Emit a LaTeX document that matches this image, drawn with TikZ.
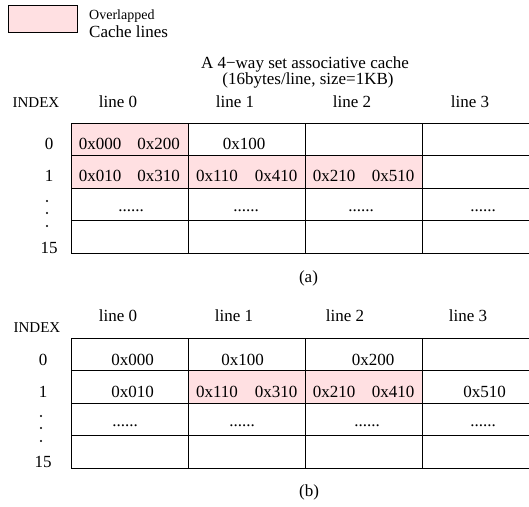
\documentclass[tikz,border=0pt]{standalone}
\usepackage{fontspec}
\setmainfont{Liberation Serif}
\definecolor{ovl}{RGB}{255,224,226}
\begin{document}
\begin{tikzpicture}[x=1pt,y=-1pt,
  txt/.style={inner sep=0pt,anchor=base,font=\fontsize{17}{20}\selectfont},
  idx/.style={inner sep=0pt,anchor=base,font=\fontsize{15}{18}\selectfont},
  grid/.style={line width=0.8pt,black},
  ovlfill/.style={fill=ovl}]
\useasboundingbox (0,0) rectangle (529,506);
% legend
\draw[fill=ovl,line width=0.8pt] (8,5) rectangle (77,32);
\node[idx,anchor=base west,font=\fontsize{14}{16}\selectfont] (lg1) at (89,19) {Overlapped};
\node[txt,anchor=base west] (lg2) at (89,37) {Cache lines};
% title
\node[txt] (t1) at (305,68) {A 4−way set associative cache};
\node[txt] (t2) at (308,84) {(16bytes/line, size=1KB)};
% ---------- table (a) ----------
\fill[ovl] (71,123) rectangle (188,188);
\fill[ovl] (188,155.5) rectangle (422,188);
\foreach \y in {123,155.5,188,220.5,253} \draw[grid] (71,\y) -- (529,\y);
\foreach \x in {71,188,305,422} \draw[grid] (\x,123) -- (\x,253);
\node[idx] (ai) at (36,107) {INDEX};
\node[txt] (al0) at (118,107) {line 0};
\node[txt] (al1) at (235,107) {line 1};
\node[txt] (al2) at (352,107) {line 2};
\node[txt] (al3) at (470,107) {line 3};
\node[txt] (ar0) at (49,149) {0};
\node[txt] (ar1) at (49,181.5) {1};
\node[txt] (ar15) at (49,253) {15};
\foreach \d in {201,213,226} \fill (47,\d) circle (1.1pt);
\node[txt] (a00a) at (100,149) {0x000};
\node[txt] (a00b) at (158.5,149) {0x200};
\node[txt] (a01) at (244,149) {0x100};
\node[txt] (a10a) at (100,181.5) {0x010};
\node[txt] (a10b) at (158.5,181.5) {0x310};
\node[txt] (a11a) at (217,181.5) {0x110};
\node[txt] (a11b) at (276,181.5) {0x410};
\node[txt] (a12a) at (334,181.5) {0x210};
\node[txt] (a12b) at (393,181.5) {0x510};
\node[txt] (a20) at (131,211) {......};
\node[txt] (a21) at (246,211) {......};
\node[txt] (a22) at (361,211) {......};
\node[txt] (a23) at (483,211) {......};
\node[txt] (acap) at (308.5,282) {(a)};
% ---------- table (b) ----------
\fill[ovl] (188,370.5) rectangle (422,403);
\foreach \y in {338,370.5,403,435.5,468} \draw[grid] (71,\y) -- (529,\y);
\foreach \x in {71,188,305,422} \draw[grid] (\x,338) -- (\x,468);
\node[idx] (bi) at (37,332) {INDEX};
\node[txt] (bl0) at (118,321) {line 0};
\node[txt] (bl1) at (234,321) {line 1};
\node[txt] (bl2) at (345,321) {line 2};
\node[txt] (bl3) at (468,321) {line 3};
\node[txt] (br0) at (43,365) {0};
\node[txt] (br1) at (43,397) {1};
\node[txt] (br15) at (43,467) {15};
\foreach \d in {416,428,441} \fill (41,\d) circle (1.1pt);
\node[txt] (b00) at (132.5,365) {0x000};
\node[txt] (b01) at (242.5,365) {0x100};
\node[txt] (b02) at (373,365) {0x200};
\node[txt] (b10) at (132.5,397) {0x010};
\node[txt] (b11a) at (217,397) {0x110};
\node[txt] (b11b) at (276,397) {0x310};
\node[txt] (b12a) at (334,397) {0x210};
\node[txt] (b12b) at (393,397) {0x410};
\node[txt] (b13) at (484.5,397) {0x510};
\node[txt] (b20) at (125,426) {......};
\node[txt] (b21) at (242,426) {......};
\node[txt] (b22) at (367,426) {......};
\node[txt] (b23) at (483,426) {......};
\node[txt] (bcap) at (309,496) {(b)};
\end{tikzpicture}
\end{document}
